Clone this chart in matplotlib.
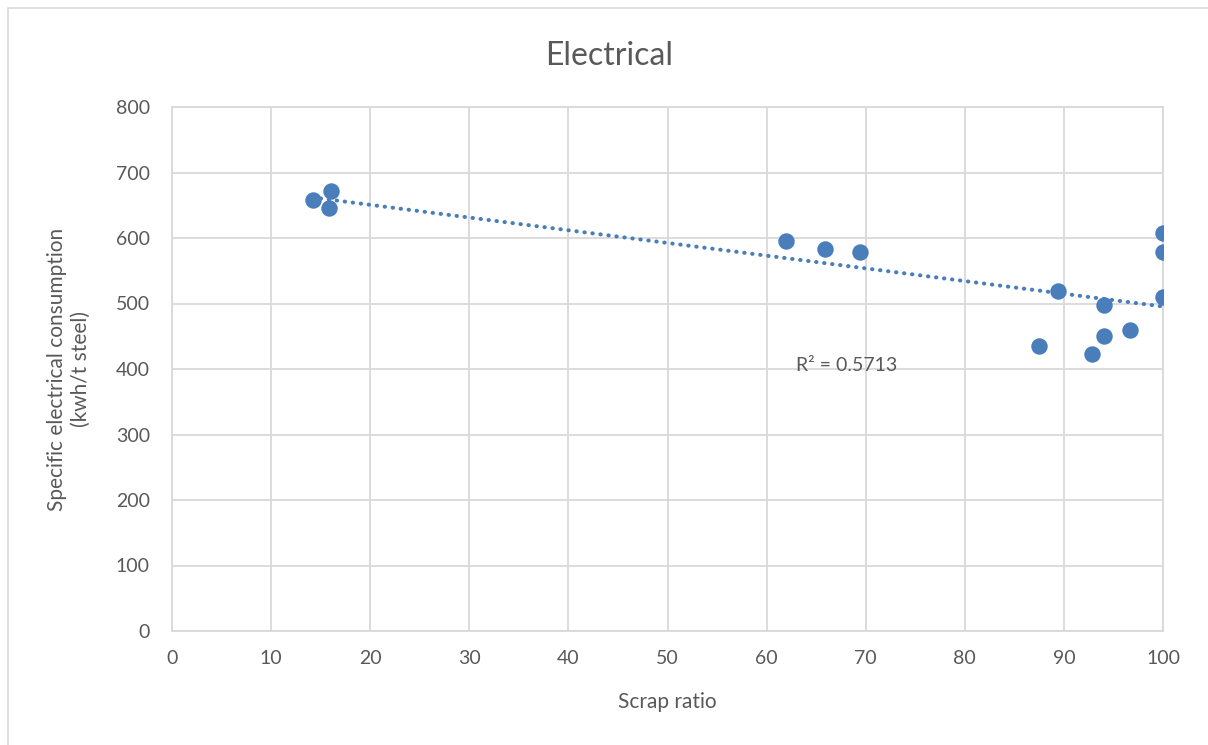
import numpy as np
import matplotlib
matplotlib.use("Agg")
import matplotlib.pyplot as plt
from matplotlib.patches import Rectangle

# Data
scrap_ratio = [14.2, 16.0, 15.8, 62.0, 65.9, 69.4, 89.4, 94.0, 87.5, 92.8, 94.0, 96.7, 100.0, 100.0, 100.0]
consumption = [658, 672, 646, 596, 583, 578, 519, 497, 435, 423, 450, 460, 607, 578, 510]
r2_label = "R² = 0.5713"
x_ticks = list(range(0, 101, 10))
y_ticks = list(range(0, 801, 100))

grid_col = "#d9d9d9"
text_col = "#595959"
point_col = "#4a7ebb"

plt.rcParams['font.family'] = ['Lato', 'DejaVu Sans']

fig = plt.figure(figsize=(12.08, 7.45), dpi=100)
fig.patches.append(Rectangle((8 / 1208, -0.1), 1.2, 1 - 8 / 745 + 0.1, transform=fig.transFigure,
                             fill=False, edgecolor=grid_col, lw=1.2))

ax = fig.add_axes([172 / 1208, 1 - 631 / 745, (1163 - 172) / 1208, (631 - 107) / 745])

# linear trendline
x = np.array(scrap_ratio)
y = np.array(consumption)
slope, intercept = np.polyfit(x, y, 1)
xs = np.array([x.min(), x.max()])
ax.plot(xs, slope * xs + intercept, color=point_col, lw=2.9, linestyle=(0, (0.1, 1.9)),
        dash_capstyle='round', zorder=2)

ax.scatter(scrap_ratio, consumption, s=140, color=point_col, zorder=3, linewidths=0)

ax.text(63.0, 405, r2_label, fontsize=14, color=text_col, va='center', ha='left')

ax.set_xlim(0, 100)
ax.set_ylim(0, 800)
ax.set_xticks(x_ticks)
ax.set_yticks(y_ticks)
ax.grid(True, color=grid_col, lw=1.3)
ax.set_axisbelow(True)
for s in ax.spines.values():
    s.set_color(grid_col)
    s.set_linewidth(1.3)
ax.tick_params(length=0, labelsize=14, colors=text_col)
ax.tick_params(axis='x', pad=14)
ax.tick_params(axis='y', pad=16)

# title is centred on the whole chart area, not the plot area
ax.set_title("Electrical", fontsize=23, color=text_col, pad=30, x=(609 - 172) / 991)
ax.set_xlabel("Scrap ratio", fontsize=15, color=text_col, labelpad=18)
ax.set_ylabel("Specific electrical consumption\n(kwh/t steel)", fontsize=15, color=text_col, labelpad=18)

fig.savefig("out.png", dpi=100)
